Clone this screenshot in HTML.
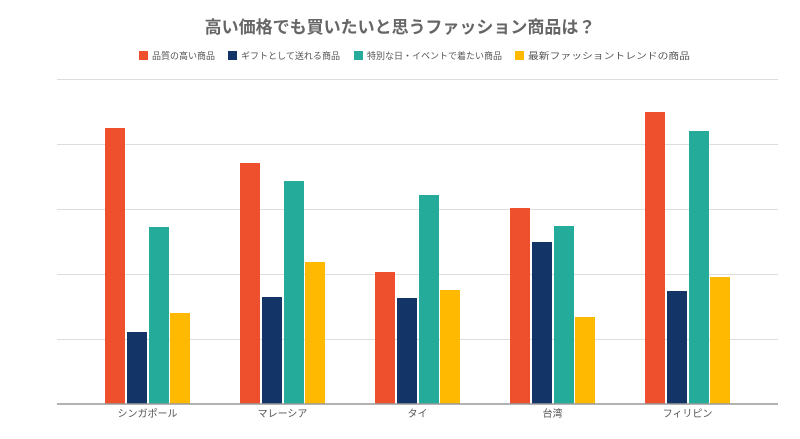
<!DOCTYPE html>
<html><head><meta charset="utf-8"><style>
body{margin:0;background:#fff;font-family:"Liberation Sans","Noto Sans CJK JP",sans-serif;}
</style></head><body>
<svg width="800" height="439" xmlns="http://www.w3.org/2000/svg" style="display:block">
<text x="400" y="33" text-anchor="middle" font-size="17" font-weight="bold" fill="#666" font-family="Liberation Sans,Noto Sans CJK JP,sans-serif">高い価格でも買いたいと思うファッション商品は？</text>
<g font-size="9" fill="#555" font-family="Liberation Sans,Noto Sans CJK JP,sans-serif">
<rect x="139" y="51" width="9" height="9" fill="#ee4f2d"/><text x="152" y="59" textLength="63" lengthAdjust="spacingAndGlyphs">品質の高い商品</text>
<rect x="228" y="51" width="9" height="9" fill="#123466"/><text x="241" y="59" textLength="99" lengthAdjust="spacingAndGlyphs">ギフトとして送れる商品</text>
<rect x="354" y="51" width="9" height="9" fill="#24ab9a"/><text x="367" y="59" textLength="135" lengthAdjust="spacingAndGlyphs">特別な日・イベントで着たい商品</text>
<rect x="515" y="51" width="9" height="9" fill="#ffb900"/><text x="528" y="59" textLength="162" lengthAdjust="spacingAndGlyphs">最新ファッショントレンドの商品</text>
</g>
<g stroke="#ddd" stroke-width="1">
<line x1="57" x2="778" y1="79.5" y2="79.5"/><line x1="57" x2="778" y1="144.5" y2="144.5"/>
<line x1="57" x2="778" y1="209.5" y2="209.5"/><line x1="57" x2="778" y1="274.5" y2="274.5"/>
<line x1="57" x2="778" y1="339.5" y2="339.5"/>
</g>
<g>
<rect x="105" y="128" width="20" height="276" fill="#ee4f2d"/><rect x="127" y="332" width="20" height="72" fill="#123466"/><rect x="149" y="227" width="20" height="177" fill="#24ab9a"/><rect x="170" y="313" width="20" height="91" fill="#ffb900"/>
<rect x="240" y="163" width="20" height="241" fill="#ee4f2d"/><rect x="262" y="297" width="20" height="107" fill="#123466"/><rect x="284" y="181" width="20" height="223" fill="#24ab9a"/><rect x="305" y="262" width="20" height="142" fill="#ffb900"/>
<rect x="375" y="272" width="20" height="132" fill="#ee4f2d"/><rect x="397" y="298" width="20" height="106" fill="#123466"/><rect x="419" y="195" width="20" height="209" fill="#24ab9a"/><rect x="440" y="290" width="20" height="114" fill="#ffb900"/>
<rect x="510" y="208" width="20" height="196" fill="#ee4f2d"/><rect x="532" y="242" width="20" height="162" fill="#123466"/><rect x="554" y="226" width="20" height="178" fill="#24ab9a"/><rect x="575" y="317" width="20" height="87" fill="#ffb900"/>
<rect x="645" y="112" width="20" height="292" fill="#ee4f2d"/><rect x="667" y="291" width="20" height="113" fill="#123466"/><rect x="689" y="131" width="20" height="273" fill="#24ab9a"/><rect x="710" y="277" width="20" height="127" fill="#ffb900"/>
</g>
<line x1="57" x2="778" y1="404" y2="404" stroke="#999" stroke-width="1.5"/>
<g font-size="10" fill="#555" text-anchor="middle" font-family="Liberation Sans,Noto Sans CJK JP,sans-serif">
<text x="147.5" y="417">シンガポール</text><text x="282.5" y="417">マレーシア</text><text x="417.5" y="417">タイ</text><text x="552.5" y="417">台湾</text><text x="687.5" y="417">フィリピン</text>
</g>
</svg>
</body></html>
